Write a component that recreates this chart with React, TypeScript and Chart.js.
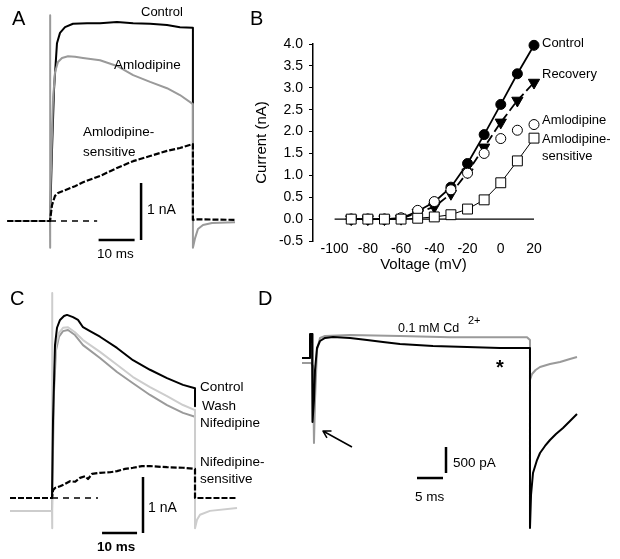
import React, { useEffect, useRef } from 'react';
import { Chart, registerables } from 'chart.js';

Chart.register(...registerables);

type P = [number, number];

// ---------- Panel A : time (ms) , current (nA) ----------
const aControl: P[] = [[0, 0], [0.56, 1.25], [1.11, 2.3], [1.94, 3.12], [2.78, 3.3], [4.17, 3.4], [6.39, 3.46], [10.3, 3.47], [13.9, 3.47], [18.6, 3.49], [23.1, 3.47], [27.8, 3.46], [32.5, 3.44], [36.1, 3.4], [39.7, 3.39], [39.7, 0]];
const aAmlodipine: P[] = [[-11.9, 0], [0, 0], [0, 3.61], [0, -0.47], [0.14, 0.37], [0.83, 2.12], [1.39, 2.61], [2.22, 2.79], [3.33, 2.86], [5, 2.89], [6.94, 2.88], [9.17, 2.86], [13.9, 2.82], [18.6, 2.72], [23.1, 2.56], [27.8, 2.44], [32.5, 2.33], [36.1, 2.21], [39.7, 2.05], [39.7, -0.47], [40.3, -0.3], [41.1, -0.14], [42.5, -0.07], [45, -0.035], [51.4, -0.02]];
const aSensitive: P[] = [[-11.9, 0], [0, 0], [0.56, 0.28], [1.39, 0.44], [2.22, 0.49], [4.17, 0.54], [6.94, 0.61], [9.17, 0.68], [13.9, 0.79], [18.6, 0.93], [23.1, 1.05], [27.8, 1.14], [32.5, 1.23], [36.1, 1.28], [39.7, 1.35], [39.7, 0.02], [40.3, 0.03], [51.4, 0.02]];
const aZeroRef: P[] = [[0, 0], [13.1, 0]];
const aBarTime: P[] = [[13.5, -0.333], [23.5, -0.333]];
const aBarCurrent: P[] = [[25.3, -0.333], [25.3, 0.667]];

// ---------- Panel B : voltage (mV) , current (nA) ----------
const ivVoltage = [-90, -80, -70, -60, -50, -40, -30, -20, -10, 0, 10, 20];
const ivControl = [0, 0, 0, 0.02, 0.18, 0.39, 0.73, 1.27, 1.93, 2.62, 3.32, 3.97];
const ivRecovery = [0, 0, 0, 0.01, 0.15, 0.28, 0.58, 1.07, 1.64, 2.21, 2.71, 3.12];
const ivAmlodipine = [0, 0, 0, 0.03, 0.2, 0.4, 0.67, 1.05, 1.5, 1.84, 2.03, 2.16];
const ivSensitive = [0, 0, 0, 0, 0.02, 0.05, 0.1, 0.23, 0.44, 0.83, 1.33, 1.85];
const ivXTicks = [-100, -80, -60, -40, -20, 0, 20];
const ivYTicks = [-0.5, 0, 0.5, 1, 1.5, 2, 2.5, 3, 3.5, 4];
const ivZero: P[] = [[-100, 0], [20, 0]];

// ---------- Panel C : time (ms) , current (nA) ----------
const cControl: P[] = [[0, 0], [0.29, 1.39], [0.86, 2.73], [1.43, 3.04], [2.29, 3.18], [3.43, 3.25], [4.29, 3.27], [6, 3.23], [7.43, 3.18], [8.86, 3.05], [10.86, 2.98], [13.71, 2.88], [18.57, 2.68], [23.14, 2.46], [28, 2.29], [32.86, 2.14], [37.43, 2.02], [40.86, 1.96], [40.86, 1.64]];
const cWash: P[] = [[-12, -0.23], [0, -0.23], [0, 3.66], [0, -0.54], [0.2, 0.5], [0.57, 2.11], [1.14, 2.73], [2, 2.95], [3.14, 3.04], [4.57, 3.05], [6.57, 2.96], [8.86, 2.82], [13.71, 2.61], [18.57, 2.38], [23.14, 2.16], [28, 1.98], [32.86, 1.82], [37.43, 1.66], [40.86, 1.57], [40.86, -0.54], [41.43, -0.39], [42.29, -0.3], [45.14, -0.23], [52.86, -0.18]];
const cNifedipine: P[] = [[-12, -0.23], [0, -0.23], [0.57, 1.9], [1.14, 2.64], [2, 2.88], [3.14, 2.98], [4.57, 3.0], [6.57, 2.91], [8.86, 2.73], [13.71, 2.5], [18.57, 2.25], [23.14, 2.05], [28, 1.84], [32.86, 1.66], [37.43, 1.52], [40.86, 1.45], [40.86, 0]];
const cSensitive: P[] = [[-12, 0], [0, 0], [0.29, 0.14], [0.86, 0.18], [2.29, 0.21], [3.71, 0.25], [5.14, 0.3], [6.57, 0.29], [8, 0.36], [9.43, 0.39], [10.29, 0.34], [11.43, 0.43], [13.71, 0.45], [16.57, 0.46], [18.57, 0.48], [20.86, 0.52], [23.14, 0.54], [25.71, 0.57], [28, 0.57], [32.86, 0.55], [37.43, 0.54], [40.86, 0.52], [40.86, 0], [41.4, 0], [52.86, 0]];
const cZeroRef: P[] = [[0, 0], [13.14, 0]];
const cBarTime: P[] = [[14.3, -0.625], [24.3, -0.625]];
const cBarCurrent: P[] = [[26, -0.625], [26, 0.375]];

// ---------- Panel D : time (ms) , current (pA) ----------
const dControl: P[] = [[-1.92, 0], [-0.38, 0], [-0.38, 462], [0, 462], [0, -38], [0.19, -1231], [0.38, -808], [0.58, -231], [0.96, 192], [1.54, 327], [2.5, 385], [4.04, 404], [7.31, 385], [10.58, 346], [13.65, 308], [16.92, 269], [23.27, 231], [29.81, 212], [36.15, 192], [41.92, 192], [41.92, -3269], [42.12, -2635], [42.5, -2212], [43.27, -1962], [43.85, -1827], [44.81, -1692], [45.77, -1577], [46.92, -1462], [48.27, -1346], [49.62, -1212], [50.96, -1077]];
const dCadmium: P[] = [[-1.92, -96], [-0.19, -96], [0.19, -150], [0.38, -1635], [0.58, -808], [0.96, 154], [1.54, 385], [2.5, 423], [7.31, 442], [16.92, 423], [26.5, 400], [36.15, 400], [41.35, 400], [41.92, 346], [41.92, -423], [42.31, -308], [43, -231], [43.85, -173], [45.77, -115], [47.7, -77], [49.6, -19], [50.96, 19]];
const dArrow: P[] = [[7.69, -1712], [2.115, -1404], [3.65, -1404], [2.115, -1404], [2.88, -1538]];
const dBarTime: P[] = [[20.19, -2308], [25.19, -2308]];
const dBarCurrent: P[] = [[25.77, -2212], [25.77, -1712]];

// ---------- layout (pixel anchors of each trace panel) ----------
const W = 620;
const H = 559;
const panelA = { x0: 50, pxX: 3.6, y0: 221, pxY: 57 };
const panelC = { x0: 52, pxX: 3.5, y0: 498, pxY: 56 };
const panelD = { x0: 312, pxX: 5.2, y0: 358, pxY: 0.052 };

const FONT = '"Liberation Sans", Arial, Helvetica, sans-serif';

type Note = { text: string; x: number; cy: number; size: number; bold?: boolean };
const notes: Note[] = [
  { text: 'A', x: 12, cy: 18, size: 20 },
  { text: 'Control', x: 141, cy: 12, size: 13 },
  { text: 'Amlodipine', x: 114, cy: 65, size: 13.5 },
  { text: 'Amlodipine-', x: 83, cy: 132, size: 13.5 },
  { text: 'sensitive', x: 83, cy: 152, size: 13.5 },
  { text: '1 nA', x: 147, cy: 209, size: 14 },
  { text: '10 ms', x: 97, cy: 254, size: 13.5 },
  { text: 'B', x: 250, cy: 18, size: 20 },
  { text: 'Control', x: 542, cy: 43, size: 13 },
  { text: 'Recovery', x: 542, cy: 74, size: 13 },
  { text: 'Amlodipine', x: 542, cy: 120, size: 13 },
  { text: 'Amlodipine-', x: 542, cy: 139, size: 13 },
  { text: 'sensitive', x: 542, cy: 156, size: 13 },
  { text: 'C', x: 10, cy: 298, size: 20 },
  { text: 'Control', x: 200, cy: 387, size: 13.5 },
  { text: 'Wash', x: 202, cy: 406, size: 13.5 },
  { text: 'Nifedipine', x: 200, cy: 423, size: 13.5 },
  { text: 'Nifedipine-', x: 200, cy: 462, size: 13.5 },
  { text: 'sensitive', x: 200, cy: 479, size: 13.5 },
  { text: '1 nA', x: 148, cy: 507, size: 14 },
  { text: '10 ms', x: 97, cy: 547, size: 13.5, bold: true },
  { text: 'D', x: 258, cy: 298, size: 20 },
  { text: '0.1 mM Cd', x: 398, cy: 328, size: 12.5 },
  { text: '2+', x: 468, cy: 321, size: 11 },
  { text: '*', x: 496, cy: 367, size: 20, bold: true },
  { text: '500 pA', x: 453, cy: 463, size: 13.5 },
  { text: '5 ms', x: 415, cy: 497, size: 13.5 },
];

const toXY = (pts: P[]) => pts.map(([x, y]) => ({ x, y }));

function axisRange(p: { x0: number; pxX: number; y0: number; pxY: number }) {
  return {
    x: { min: -p.x0 / p.pxX, max: (W - p.x0) / p.pxX },
    y: { min: (p.y0 - H) / p.pxY, max: p.y0 / p.pxY },
  };
}

export default function App() {
  const tracesRef = useRef<HTMLCanvasElement>(null);
  const ivRef = useRef<HTMLCanvasElement>(null);

  useEffect(() => {
    Chart.defaults.font.family = FONT;
    Chart.defaults.color = '#000';

    const tr = (data: P[], panel: string, color: string, width: number, dash: number[] = []) => ({
      data: toXY(data),
      xAxisID: 'x' + panel,
      yAxisID: 'y' + panel,
      borderColor: color,
      backgroundColor: color,
      borderWidth: width,
      borderDash: dash,
      borderCapStyle: 'butt',
      borderJoinStyle: 'round',
      pointRadius: 0,
      fill: false,
      tension: 0,
      clip: false,
    });

    const rA = axisRange(panelA);
    const rC = axisRange(panelC);
    const rD = axisRange(panelD);
    const hidden = (axis: 'x' | 'y', r: { min: number; max: number }) => ({
      type: 'linear', axis, display: false, min: r.min, max: r.max,
    });

    const BLACK = '#000000';
    const GRAY = '#9a9a9a';
    const LIGHT = '#cdcdcd';

    const traces = new Chart(tracesRef.current!, {
      type: 'line',
      data: {
        datasets: [
          // panel A (first = top-most)
          tr(aBarTime, 'A', BLACK, 2.5),
          tr(aBarCurrent, 'A', BLACK, 2.5),
          tr(aZeroRef, 'A', BLACK, 1.5, [6, 5]),
          tr(aSensitive, 'A', BLACK, 2.2, [6, 2]),
          tr(aAmlodipine, 'A', GRAY, 2),
          tr(aControl, 'A', BLACK, 2),
          // panel C
          tr(cBarTime, 'C', BLACK, 2.5),
          tr(cBarCurrent, 'C', BLACK, 2.5),
          tr(cZeroRef, 'C', BLACK, 1.5, [6, 5]),
          tr(cSensitive, 'C', BLACK, 2.2, [6, 2]),
          tr(cControl, 'C', BLACK, 2),
          tr(cWash, 'C', LIGHT, 2),
          tr(cNifedipine, 'C', GRAY, 2),
          // panel D
          tr(dArrow, 'D', BLACK, 1.5),
          tr(dBarTime, 'D', BLACK, 2.5),
          tr(dBarCurrent, 'D', BLACK, 2.5),
          tr(dControl, 'D', BLACK, 2),
          tr(dCadmium, 'D', GRAY, 2),
        ] as any,
      },
      options: {
        responsive: false,
        animation: false,
        devicePixelRatio: 1,
        events: [],
        layout: { padding: 0 },
        plugins: { legend: { display: false }, tooltip: { enabled: false } },
        scales: {
          xA: hidden('x', rA.x),
          yA: hidden('y', rA.y),
          xC: hidden('x', rC.x),
          yC: hidden('y', rC.y),
          xD: hidden('x', rD.x),
          yD: hidden('y', rD.y),
        } as any,
      },
    });

    const ivPts = (vals: number[]) => ivVoltage.map((v, i) => ({ x: v, y: vals[i] }));

    const iv = new Chart(ivRef.current!, {
      type: 'line',
      data: {
        datasets: [
          {
            data: ivPts(ivSensitive), borderColor: BLACK, borderWidth: 1,
            pointStyle: 'rect', pointRadius: 7, pointBorderWidth: 1,
            pointBackgroundColor: '#fff', pointBorderColor: BLACK, tension: 0, clip: false,
          },
          {
            data: ivPts(ivAmlodipine), showLine: false,
            pointStyle: 'circle', pointRadius: 5, pointBorderWidth: 1,
            pointBackgroundColor: '#fff', pointBorderColor: BLACK, clip: false,
          },
          {
            data: ivPts(ivRecovery), borderColor: BLACK, borderWidth: 1.8, borderDash: [9, 4],
            pointStyle: 'triangle', pointRotation: 180, pointRadius: 6.5, pointBorderWidth: 1,
            pointBackgroundColor: BLACK, pointBorderColor: BLACK, tension: 0, clip: false,
          },
          {
            data: ivPts(ivControl), borderColor: BLACK, borderWidth: 1.8,
            pointStyle: 'circle', pointRadius: 5, pointBorderWidth: 1,
            pointBackgroundColor: BLACK, pointBorderColor: BLACK, tension: 0, clip: false,
          },
          {
            data: toXY(ivZero), borderColor: BLACK, borderWidth: 1.3, pointRadius: 0, clip: false,
          },
        ] as any,
      },
      options: {
        responsive: false,
        animation: false,
        devicePixelRatio: 1,
        events: [],
        layout: { padding: { left: 0, top: 44, right: 86, bottom: 0 } },
        plugins: { legend: { display: false }, tooltip: { enabled: false } },
        scales: {
          x: {
            type: 'linear', min: -113, max: 20,
            afterBuildTicks: (s: any) => { s.ticks = ivXTicks.map((v) => ({ value: v })); },
            afterFit: (s: any) => { s.height = 39; },
            ticks: { font: { size: 14 }, padding: 0, maxRotation: 0, autoSkip: false, color: BLACK },
            grid: { display: false, drawTicks: false },
            border: { display: false },
            title: { display: true, text: 'Voltage (mV)', font: { size: 15 }, padding: { top: 0, bottom: 6 }, color: BLACK },
          },
          y: {
            type: 'linear', min: -0.5, max: 4,
            afterBuildTicks: (s: any) => { s.ticks = ivYTicks.map((v) => ({ value: v })); },
            afterFit: (s: any) => { s.width = 63; },
            ticks: { font: { size: 14 }, padding: 6, color: BLACK, callback: (v: any) => Number(v).toFixed(1) },
            grid: { display: true, drawOnChartArea: false, drawTicks: true, tickLength: 4, color: BLACK, lineWidth: 1 },
            border: { display: true, color: BLACK, width: 1.5 },
            title: { display: true, text: 'Current (nA)', font: { size: 15 }, padding: { top: 3, bottom: 0 }, color: BLACK },
          },
        } as any,
      },
    });

    return () => {
      traces.destroy();
      iv.destroy();
    };
  }, []);

  return (
    <div style={{ position: 'fixed', left: 0, top: 0, width: W, height: H, background: '#fff', overflow: 'hidden', fontFamily: FONT, color: '#000' }}>
      <canvas ref={tracesRef} width={W} height={H} style={{ position: 'absolute', left: 0, top: 0, width: W, height: H }} />
      <canvas ref={ivRef} width={370} height={280} style={{ position: 'absolute', left: 250, top: 0, width: 370, height: 280 }} />
      {notes.map((n, i) => (
        <div
          key={i}
          style={{
            position: 'absolute',
            left: n.x,
            top: n.cy - n.size * 0.6,
            fontSize: n.size,
            lineHeight: 1.2,
            fontWeight: n.bold ? 'bold' : 'normal',
            whiteSpace: 'nowrap',
          }}
        >
          {n.text}
        </div>
      ))}
    </div>
  );
}
